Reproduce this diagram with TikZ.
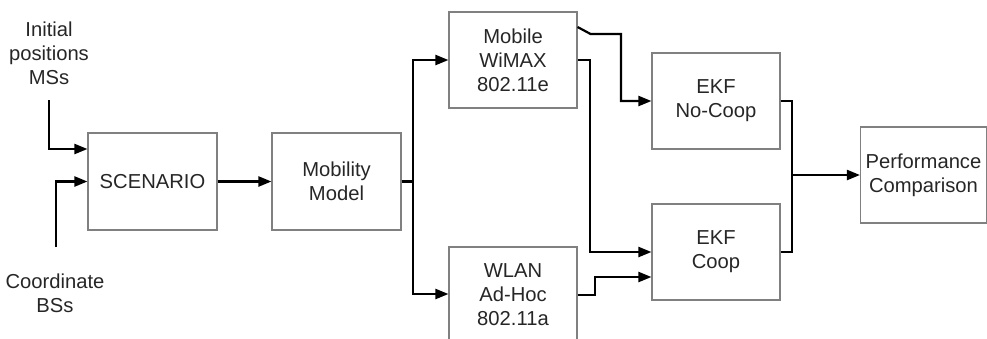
\documentclass[tikz,border=0pt]{standalone}
\usepackage{fontspec}
\setmainfont{Liberation Sans}
\usetikzlibrary{arrows.meta}
\begin{document}
\begin{tikzpicture}[x=1pt,y=-1pt,
  blk/.style={draw=black!50,line width=1.1pt,minimum width=128pt,minimum height=96pt,inner sep=0pt,align=center,
    font=\fontsize{20.2}{24}\selectfont,text=black!85},
  lbl/.style={align=center,font=\fontsize{20.2}{24}\selectfont,text=black!85},
  conn/.style={line width=2.2pt,black,-{Triangle[length=13pt,width=10pt]}},
  wire/.style={line width=2.2pt,black}]
\useasboundingbox (0,0) rectangle (987,338);
% boxes
\node[blk,minimum width=129pt,minimum height=97pt] (scen) at (152.5,181.5) {SCENARIO};
\node[blk,minimum width=129pt,minimum height=97pt] (mob) at (336.5,181.5) {Mobility\\Model};
\node[blk] (wimax) at (513,60) {Mobile\\WiMAX\\802.11e};
\node[blk] (wlan) at (513,295) {WLAN\\Ad-Hoc\\802.11a};
\node[blk] (nocoop) at (716,101) {EKF\\No-Coop};
\node[blk] (coop) at (716,252) {EKF\\Coop};
\node[blk,minimum width=126pt] (perf) at (923.5,175) {Performance\\Comparison};
% input labels
\node[lbl] (lin1) at (49,53) {Initial\\positions\\MSs};
\node[lbl] (lin2) at (55,293) {Coordinate\\BSs};
% coordinates
\coordinate (in1) at (49,100);
\coordinate (in2) at (56,247);
\coordinate (br) at (413,181.5);
\coordinate (k1) at (621,34);
\coordinate (k2) at (590,60);
\coordinate (k3) at (595,295);
\coordinate (m) at (792,175);
% connectors
\draw[conn] (in1) |- ([yshift=32.5pt]scen.west);
\draw[conn] (in2) |- (scen.west);
\draw[conn] (scen) -- (mob);
\draw[wire] (mob.east) -- (br);
\draw[conn] (br) |- (wimax.west);
\draw[conn] (br) |- ([yshift=1pt]wlan.west);
\draw[conn] ([yshift=33pt]wimax.east) -- ++(13,7) -- (k1) |- (nocoop.west);
\draw[conn] (wimax.east) -- (k2) |- (coop.west);
\draw[conn] (wlan.east) -- (k3) |- ([yshift=-25pt]coop.west);
\draw[wire] (nocoop.east) -| (m) |- (coop.east);
\draw[conn] (m) -- (perf.west);
\end{tikzpicture}
\end{document}
